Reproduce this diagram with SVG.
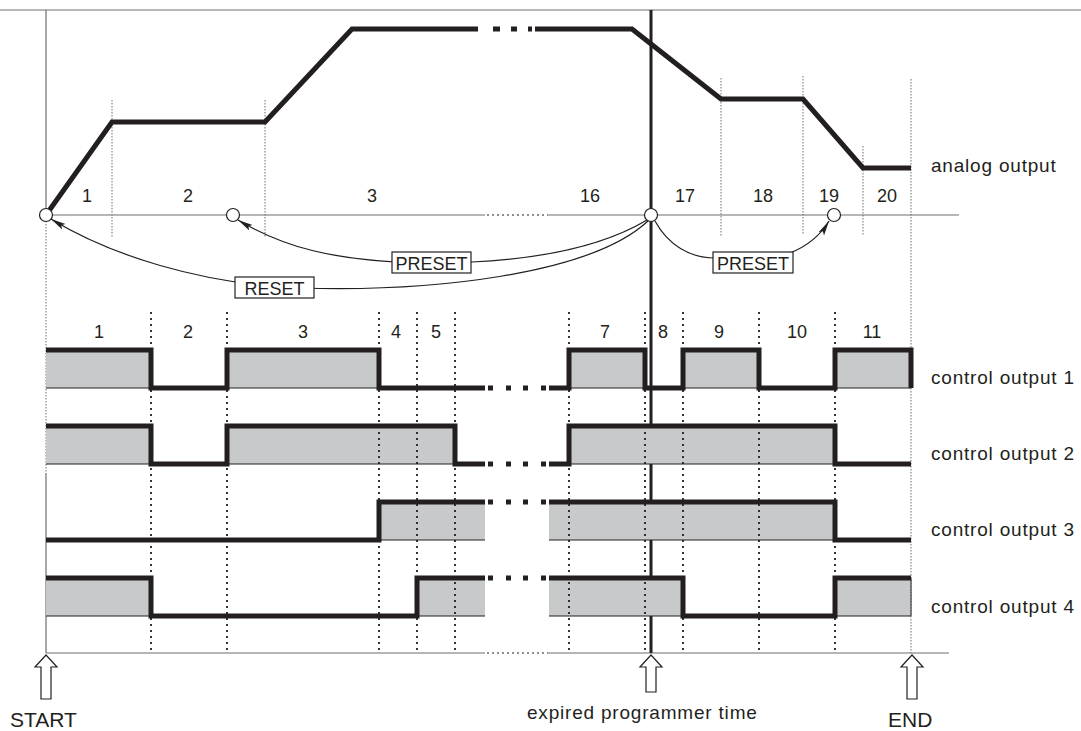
<svg xmlns="http://www.w3.org/2000/svg" width="1081" height="731" viewBox="0 0 1081 731">
<style>
.thin{stroke:#6d6e71;stroke-width:1.2;fill:none}
.gdot{stroke:#6d6e71;stroke-width:1;stroke-dasharray:1.5 1.5;fill:none}
.kdot{stroke:#231f20;stroke-width:1.8;stroke-dasharray:2 4;fill:none}
.bdot{stroke:#231f20;stroke-width:1.2;stroke-dasharray:2 3;fill:none}
.wave{stroke:#231f20;stroke-width:5;fill:none;stroke-linejoin:miter;stroke-linecap:butt}
.fillg{fill:#c8c9cb;stroke:none}
.bot{stroke:#231f20;stroke-width:1;fill:none}
.sq{fill:#231f20}
.num{font-family:"Liberation Sans",Arial,sans-serif;font-size:18px;fill:#231f20;text-anchor:middle}
.lbl{font-family:"Liberation Sans",Arial,sans-serif;font-size:19px;fill:#231f20;letter-spacing:0.8px}
.big{font-family:"Liberation Sans",Arial,sans-serif;font-size:21px;fill:#231f20}
.box{fill:#fff;stroke:#231f20;stroke-width:1.2}
.cur{fill:none;stroke:#231f20;stroke-width:1.2}
.circ{fill:#fff;stroke:#231f20;stroke-width:1.2}
.harrow{fill:#fff;stroke:#231f20;stroke-width:1.2;stroke-linejoin:miter}
</style>
<defs>
<marker id="ah" markerWidth="16" markerHeight="8" refX="15" refY="4" orient="auto" markerUnits="userSpaceOnUse">
<path d="M0,0.8 L15,4 L0,7.2 L3,4 z" fill="#231f20"/>
</marker>
</defs>

<g id="frame">
<line class="thin" x1="0" y1="10" x2="1081" y2="10"/>
<line class="thin" x1="46" y1="10" x2="46" y2="215"/>
<line class="gdot" x1="46" y1="215" x2="46" y2="473"/>
<line class="thin" x1="46" y1="473" x2="46" y2="653"/>
<path class="thin" d="M46,215 H485 M548,215 H959"/>
<line class="bdot" x1="487" y1="215" x2="548" y2="215"/>
<path class="thin" d="M46,653 H485 M548,653 H949"/>
<line class="bdot" x1="487" y1="653" x2="548" y2="653"/>
</g>

<g id="analog-grid">
<line class="gdot" x1="112" y1="100" x2="112" y2="237"/>
<line class="gdot" x1="265" y1="100" x2="265" y2="237"/>
<line class="gdot" x1="721" y1="78" x2="721" y2="237"/>
<line class="gdot" x1="803" y1="76" x2="803" y2="235"/>
<line class="gdot" x1="863" y1="146" x2="863" y2="235"/>
<line class="gdot" x1="911" y1="79" x2="911" y2="653"/>
</g>

<g id="analog-output">
<path class="wave" d="M46,215 L112,122 H265 L352,29 H478 M535,29 H632 L721,99 H803 L863,168 H911"/>
<rect class="sq" x="493" y="26.5" width="7" height="5"/>
<rect class="sq" x="511" y="26.5" width="6" height="5"/>
<rect class="sq" x="528" y="26.5" width="4" height="5"/>
<text class="lbl" x="931" y="172">analog output</text>
</g>

<g id="analog-labels">
<text class="num" x="87" y="202">1</text>
<text class="num" x="188" y="202">2</text>
<text class="num" x="372" y="202">3</text>
<text class="num" x="590" y="202">16</text>
<text class="num" x="685" y="202">17</text>
<text class="num" x="763" y="202">18</text>
<text class="num" x="829" y="202">19</text>
<text class="num" x="887" y="202">20</text>
</g>

<g id="expired-line">
<line x1="651" y1="10" x2="651" y2="653" stroke="#231f20" stroke-width="3"/>
</g>

<g id="connectors">
<path class="cur" d="M648,221 C590,275 430,292 300,288 C200,284 110,255 51,219" marker-end="url(#ah)"/>
<path class="cur" d="M647,220 C600,248 530,263 430,263 C330,262 280,245 238,220" marker-end="url(#ah)"/>
<path class="cur" d="M655,221 C668,245 690,258 715,258 L790,253 C805,247 820,236 829,221" marker-end="url(#ah)"/>
</g>

<g id="reset-label">
<rect class="box" x="235" y="277" width="79" height="21"/>
<text class="num" x="274.5" y="294.5">RESET</text>
</g>
<g id="preset-label-1">
<rect class="box" x="392" y="252" width="79" height="21"/>
<text class="num" x="431.5" y="269.5">PRESET</text>
</g>
<g id="preset-label-2">
<rect class="box" x="713" y="252" width="80" height="21"/>
<text class="num" x="753" y="269.5">PRESET</text>
</g>

<g id="points">
<circle class="circ" cx="46" cy="215" r="6.5"/>
<circle class="circ" cx="233" cy="215" r="6.5"/>
<circle class="circ" cx="651" cy="215" r="6.5"/>
<circle class="circ" cx="834" cy="215" r="6.5"/>
</g>

<g id="control-labels">
<text class="num" x="99" y="338">1</text>
<text class="num" x="188" y="338">2</text>
<text class="num" x="303" y="338">3</text>
<text class="num" x="396" y="338">4</text>
<text class="num" x="436" y="338">5</text>
<text class="num" x="605" y="338">7</text>
<text class="num" x="663" y="338">8</text>
<text class="num" x="719" y="338">9</text>
<text class="num" x="797" y="338">10</text>
<text class="num" x="872" y="338">11</text>
</g>

<g id="fills">
<rect class="fillg" x="46" y="350" width="105" height="38"/>
<rect class="fillg" x="227" y="350" width="152" height="38"/>
<rect class="fillg" x="569" y="350" width="76" height="38"/>
<rect class="fillg" x="683" y="350" width="76" height="38"/>
<rect class="fillg" x="835" y="350" width="76" height="38"/>
<rect class="fillg" x="46" y="426" width="105" height="38"/>
<rect class="fillg" x="227" y="426" width="228" height="38"/>
<rect class="fillg" x="569" y="426" width="266" height="38"/>
<rect class="fillg" x="379" y="502" width="106" height="38"/>
<rect class="fillg" x="549" y="502" width="286" height="38"/>
<rect class="fillg" x="46" y="578" width="105" height="38"/>
<rect class="fillg" x="417" y="578" width="68" height="38"/>
<rect class="fillg" x="549" y="578" width="134" height="38"/>
<rect class="fillg" x="835" y="578" width="76" height="38"/>
<path class="bot" d="M46,388 H151 M227,388 H379 M569,388 H645 M683,388 H759 M835,388 H911
M46,464 H151 M227,464 H455 M569,464 H835
M379,540 H485 M549,540 H835
M46,616 H151 M417,616 H485 M549,616 H683 M835,616 H911 V578"/>
</g>

<g id="control-grid">
<line class="kdot" x1="151" y1="312" x2="151" y2="653"/>
<line class="kdot" x1="227" y1="312" x2="227" y2="653"/>
<line class="kdot" x1="379" y1="312" x2="379" y2="653"/>
<line class="kdot" x1="417" y1="312" x2="417" y2="653"/>
<line class="kdot" x1="455" y1="312" x2="455" y2="653"/>
<line class="kdot" x1="569" y1="312" x2="569" y2="653"/>
<line class="kdot" x1="645" y1="312" x2="645" y2="653"/>
<line class="kdot" x1="683" y1="312" x2="683" y2="653"/>
<line class="kdot" x1="759" y1="312" x2="759" y2="653"/>
<line class="kdot" x1="835" y1="312" x2="835" y2="653"/>
</g>

<g id="control-output-1">
<path class="wave" d="M46,350 H151 V388 H227 V350 H379 V388 H485 M549,388 H569 V350 H645 V388 H683 V350 H759 V388 H835 V350 H911 V388"/>
<rect class="sq" x="488" y="385.5" width="5" height="5"/>
<rect class="sq" x="506" y="385.5" width="5" height="5"/>
<rect class="sq" x="523" y="385.5" width="5" height="5"/>
<rect class="sq" x="541" y="385.5" width="5" height="5"/>
<text class="lbl" x="931" y="384">control output 1</text>
</g>

<g id="control-output-2">
<path class="wave" d="M46,426 H151 V464 H227 V426 H455 V464 H485 M549,464 H569 V426 H835 V464 H911"/>
<rect class="sq" x="488" y="461.5" width="5" height="5"/>
<rect class="sq" x="506" y="461.5" width="5" height="5"/>
<rect class="sq" x="523" y="461.5" width="5" height="5"/>
<rect class="sq" x="541" y="461.5" width="5" height="5"/>
<text class="lbl" x="931" y="460">control output 2</text>
</g>

<g id="control-output-3">
<path class="wave" d="M46,540 H379 V502 H485 M549,502 H835 V540 H911"/>
<rect class="sq" x="488" y="499.5" width="5" height="5"/>
<rect class="sq" x="506" y="499.5" width="5" height="5"/>
<rect class="sq" x="523" y="499.5" width="5" height="5"/>
<rect class="sq" x="541" y="499.5" width="5" height="5"/>
<text class="lbl" x="931" y="536">control output 3</text>
</g>

<g id="control-output-4">
<path class="wave" d="M46,578 H151 V616 H417 V578 H485 M549,578 H683 V616 H835 V578 H911"/>
<rect class="sq" x="488" y="575.5" width="5" height="5"/>
<rect class="sq" x="506" y="575.5" width="5" height="5"/>
<rect class="sq" x="523" y="575.5" width="5" height="5"/>
<rect class="sq" x="541" y="575.5" width="5" height="5"/>
<text class="lbl" x="931" y="613">control output 4</text>
</g>

<g id="start">
<polygon class="harrow" points="46,655 57,667 51,667 51,699 41,699 41,667 35,667"/>
<text class="big" x="10" y="727">START</text>
</g>
<g id="expired">
<polygon class="harrow" points="651,655 662,667 656,667 656,692 646,692 646,667 640,667"/>
<text class="lbl" x="527" y="719" font-size="17">expired programmer time</text>
</g>
<g id="end">
<polygon class="harrow" points="912,655 923,667 917,667 917,699 907,699 907,667 901,667"/>
<text class="big" x="888" y="727">END</text>
</g>
</svg>
